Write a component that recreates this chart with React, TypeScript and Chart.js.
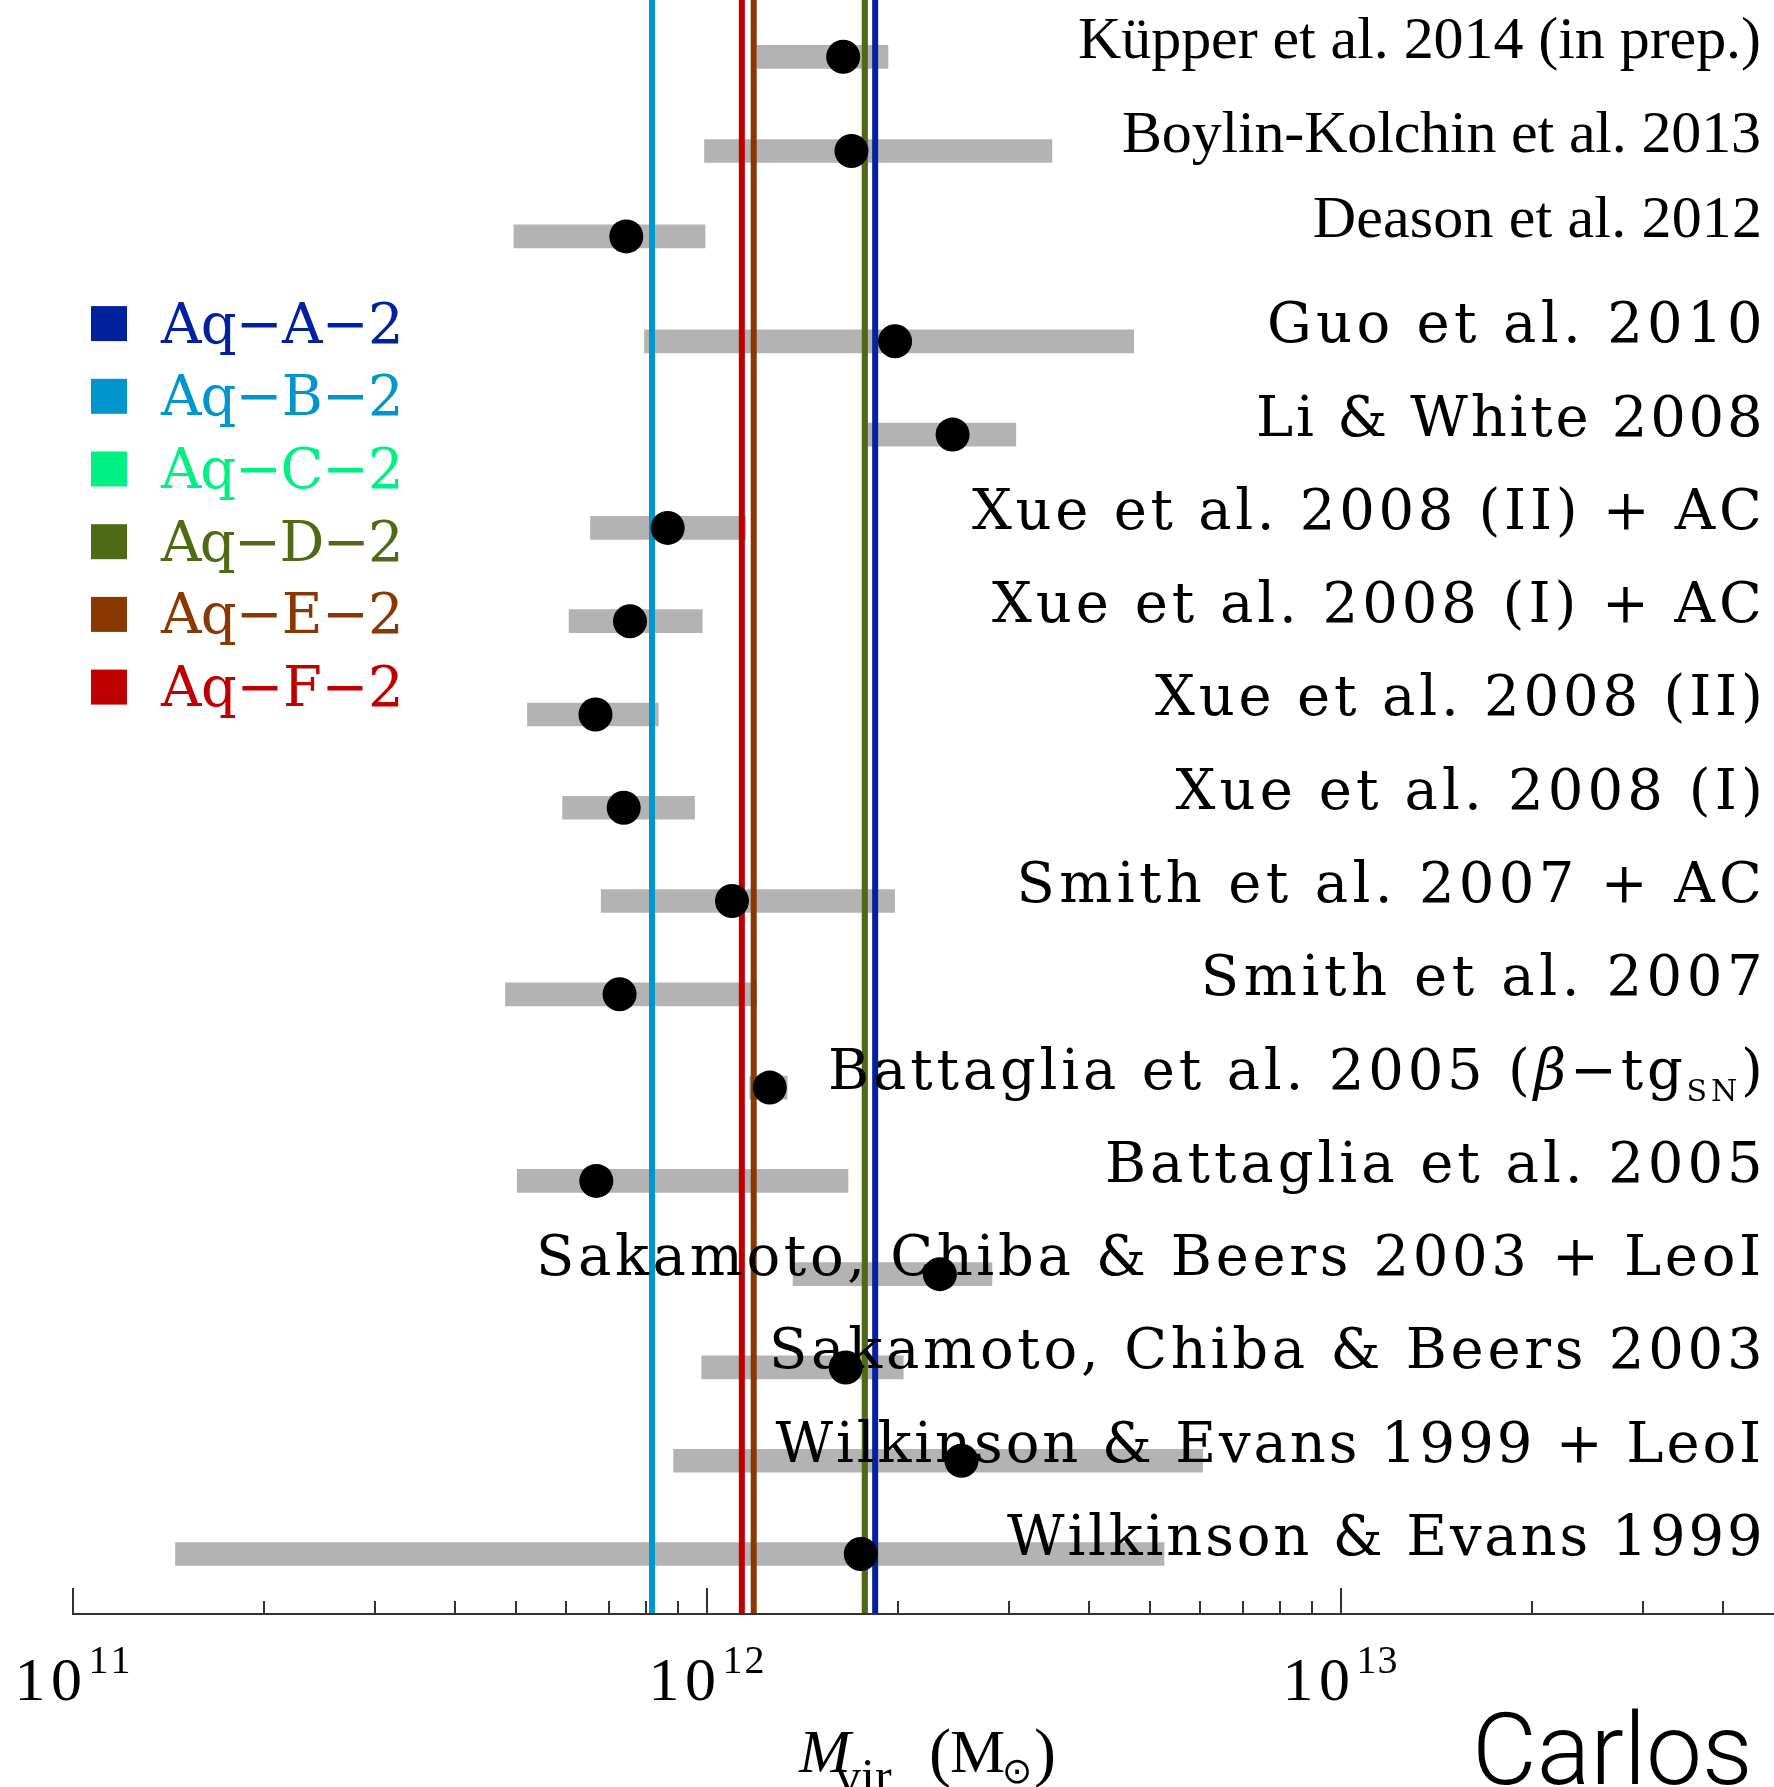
import React, { useEffect, useRef } from "react";
import { Chart, registerables } from "chart.js";

Chart.register(...registerables);

// ---------------- data ----------------
const studyLabels = [
  "Küpper et al. 2014 (in prep.)",
  "Boylin-Kolchin et al. 2013",
  "Deason et al. 2012",
  "Guo et al. 2010",
  "Li & White 2008",
  "Xue et al. 2008 (II) + AC",
  "Xue et al. 2008 (I) + AC",
  "Xue et al. 2008 (II)",
  "Xue et al. 2008 (I)",
  "Smith et al. 2007 + AC",
  "Smith et al. 2007",
  "Battaglia et al. 2005 (β−tg_{SN})",
  "Battaglia et al. 2005",
  "Sakamoto, Chiba & Beers 2003 + LeoI",
  "Sakamoto, Chiba & Beers 2003",
  "Wilkinson & Evans 1999 + LeoI",
  "Wilkinson & Evans 1999",
];

// row position (0 = bottom row)
const rowPos = [16.05, 15.04, 14.125, 13, 12, 11, 10, 9, 8, 7, 6, 5, 4, 3, 2, 1, 0];

const massBest = [
  1.64e12, 1.69e12, 7.46e11, 1.98e12, 2.44e12, 8.67e11, 7.56e11, 6.67e11, 7.39e11,
  1.095e12, 7.28e11, 1.256e12, 6.69e11, 2.33e12, 1.655e12, 2.52e12, 1.748e12,
];
const massLow = [
  1.2e12, 9.91e11, 4.96e11, 7.97e11, 1.773e12, 6.55e11, 6.06e11, 5.21e11, 5.92e11,
  6.81e11, 4.81e11, 1.168e12, 5.02e11, 1.367e12, 9.81e11, 8.86e11, 1.451e11,
];
const massHigh = [
  1.93e12, 3.5e12, 9.93e11, 4.71e12, 3.07e12, 1.151e12, 9.83e11, 8.38e11, 9.56e11,
  1.977e12, 1.198e12, 1.338e12, 1.669e12, 2.815e12, 2.04e12, 6.05e12, 5.26e12,
];

const haloNames = ["Aq−A−2", "Aq−B−2", "Aq−C−2", "Aq−D−2", "Aq−E−2", "Aq−F−2"];
const haloMass = [1.842e12, 8.19e11, 1.774e12, 1.774e12, 1.185e12, 1.135e12];
const haloColors = ["#00229f", "#0096cc", "#00f084", "#4f6a14", "#883800", "#c00000"];

const xTickExponents = [11, 12, 13];
const xMin = 1e11;
const xMax = 4.82e13;
const yMin = -0.643;
const yMax = 16.659;

// ---------------- layout / style ----------------
const W = 1774;
const H = 1787;
const labelKind = studyLabels.map((_, i) => (i < 3 ? "times" : "typewriter"));
const labelInkLeft = [
  1079, 1123, 1313.7, 1270, 1259, 972, 992, 1155, 1175.5, 1020.6, 1204.8, 831, 1108,
  540, 773, 775.5, 1007,
];
const labelInkRight = 1759;

type Ch = { text: string; font: string; dy: number };

function charsOf(text: string, font: string): Ch[] {
  return Array.from(text).map((c) => ({ text: c, font, dy: 0 }));
}

function buildLabel(label: string, kind: string): Ch[] {
  const base = kind === "times" ? '60px "Liberation Serif"' : '56px "DejaVu Serif"';
  const italic = kind === "times" ? 'italic 60px "Liberation Serif"' : 'italic 56px "DejaVu Serif"';
  const sub = '30px "DejaVu Serif"';
  const out: Ch[] = [];
  const pushText = (t: string) => {
    for (const c of Array.from(t)) {
      out.push({ text: c, font: /[α-ω]/.test(c) ? italic : base, dy: 0 });
    }
  };
  const re = /_\{([^}]*)\}/g;
  let last = 0;
  let m: RegExpExecArray | null;
  while ((m = re.exec(label))) {
    pushText(label.slice(last, m.index));
    for (const c of Array.from(m[1])) out.push({ text: c, font: sub, dy: 12 });
    last = re.lastIndex;
  }
  pushText(label.slice(last));
  return out;
}

function drawSpaced(
  ctx: CanvasRenderingContext2D,
  chars: Ch[],
  left: number,
  right: number,
  baseline: number,
  color: string
) {
  const n = chars.length;
  const widths = chars.map((c) => {
    ctx.font = c.font;
    return ctx.measureText(c.text).width;
  });
  ctx.font = chars[0].font;
  const abl = ctx.measureText(chars[0].text).actualBoundingBoxLeft;
  ctx.font = chars[n - 1].font;
  const abr = ctx.measureText(chars[n - 1].text).actualBoundingBoxRight;
  let inner = 0;
  for (let i = 0; i < n - 1; i++) inner += widths[i];
  const s = n > 1 ? (right - left - (abl + inner + abr)) / (n - 1) : 0;
  let x = left + abl;
  ctx.fillStyle = color;
  ctx.textAlign = "left";
  ctx.textBaseline = "alphabetic";
  for (let i = 0; i < n; i++) {
    ctx.font = chars[i].font;
    ctx.fillText(chars[i].text, x, baseline + chars[i].dy);
    x += widths[i] + s;
  }
}

function drawInk(ctx: CanvasRenderingContext2D, text: string, font: string, inkLeft: number, baseline: number) {
  ctx.font = font;
  const m = ctx.measureText(text);
  ctx.textAlign = "left";
  ctx.textBaseline = "alphabetic";
  ctx.fillText(text, inkLeft + m.actualBoundingBoxLeft, baseline);
}

const decor = {
  id: "decor",
  afterDraw(chart: any) {
    const ctx: CanvasRenderingContext2D = chart.ctx;
    const xs = chart.scales.x;
    const ys = chart.scales.y;
    const area = chart.chartArea;
    ctx.save();

    // x axis line + inward ticks
    const axisY = area.bottom;
    ctx.strokeStyle = "#333333";
    ctx.lineWidth = 2;
    ctx.beginPath();
    ctx.moveTo(area.left, axisY);
    ctx.lineTo(area.right, axisY);
    ctx.stroke();
    for (const e of xTickExponents) {
      for (let m = 1; m <= 9; m++) {
        const v = m * Math.pow(10, e);
        if (v > xMax) break;
        const px = Math.round(xs.getPixelForValue(v));
        const len = m === 1 ? 26 : 13;
        ctx.beginPath();
        ctx.moveTo(px, axisY + 1);
        ctx.lineTo(px, axisY - len);
        ctx.stroke();
      }
    }

    // tick labels 10^n
    for (const e of xTickExponents) {
      const px = xs.getPixelForValue(Math.pow(10, e));
      drawSpaced(ctx, charsOf("10", '62px "Liberation Serif"'), px - 53.5, px + 7, 1700, "#000");
      drawSpaced(ctx, charsOf(String(e), '40px "Liberation Serif"'), px + 18.5, px + 55.5, 1673, "#000");
    }

    // axis title  M_vir (M_sun)
    ctx.fillStyle = "#000";
    drawInk(ctx, "M", 'italic 62px "Liberation Serif"', 798, 1772);
    drawInk(ctx, "vir", '50px "Liberation Serif"', 836, 1793);
    drawInk(ctx, "(", '66px "Liberation Serif"', 931, 1774);
    drawInk(ctx, "M", '62px "Liberation Serif"', 951, 1772);
    {
      ctx.font = '36px "DejaVu Sans"';
      const m = ctx.measureText("⊙");
      const cx = 1017;
      const cy = 1771;
      const w = m.actualBoundingBoxLeft + m.actualBoundingBoxRight;
      const x = cx - w / 2 + m.actualBoundingBoxLeft;
      const y = cy + (m.actualBoundingBoxAscent - m.actualBoundingBoxDescent) / 2;
      ctx.textAlign = "left";
      ctx.textBaseline = "alphabetic";
      ctx.fillText("⊙", x, y);
    }
    drawInk(ctx, ")", '66px "Liberation Serif"', 1036, 1774);

    // study labels
    studyLabels.forEach((label, i) => {
      const baseline = ys.getPixelForValue(rowPos[i]) + 1;
      drawSpaced(ctx, buildLabel(label, labelKind[i]), labelInkLeft[i], labelInkRight, baseline, "#000");
    });

    // legend
    haloNames.forEach((name, i) => {
      const baseline = 342.6 + i * 72.7;
      ctx.fillStyle = haloColors[i];
      ctx.fillRect(91, baseline - 36.5, 36, 35);
      drawSpaced(ctx, charsOf(name, '56px "DejaVu Serif"'), 160, 399, baseline, haloColors[i]);
    });

    // signature
    drawSpaced(ctx, charsOf("Carlos", '300 100px Roboto'), 1478, 1748, 1784, "#000");

    ctx.restore();
  },
};

export default function App() {
  const ref = useRef<HTMLCanvasElement | null>(null);

  useEffect(() => {
    const canvas = ref.current;
    if (!canvas) return;

    const rows = studyLabels.map((_, i) => i);

    const haloDatasets = haloNames.map((name, i) => ({
      type: "line" as const,
      label: name,
      data: [
        { x: haloMass[i], y: yMin },
        { x: haloMass[i], y: yMax },
      ],
      borderColor: haloColors[i],
      backgroundColor: haloColors[i],
      borderWidth: 6,
      borderCapStyle: "butt" as const,
      pointRadius: 0,
      fill: false,
      tension: 0,
      clip: 0,
      order: name === "Aq−C−2" ? 2.5 : 2,
    }));

    const chart = new Chart(canvas, {
      type: "scatter",
      data: {
        datasets: [
          ...haloDatasets,
          {
            type: "bar",
            label: "range",
            indexAxis: "y",
            data: rows.map((i) => ({ y: rowPos[i], x: [massLow[i], massHigh[i]] })),
            backgroundColor: "#b3b3b3",
            borderWidth: 0,
            barThickness: 23,
            order: 3,
          } as any,
          {
            type: "scatter",
            label: "estimate",
            data: rows.map((i) => ({ x: massBest[i], y: rowPos[i] })),
            pointRadius: 17,
            pointBackgroundColor: "#000",
            pointBorderWidth: 0,
            order: 0,
          },
        ],
      },
      options: {
        responsive: false,
        animation: false,
        devicePixelRatio: 1,
        events: [],
        layout: { autoPadding: false, padding: { left: 73, right: 0, top: 0, bottom: H - 1614 } },
        scales: {
          x: { type: "logarithmic", min: xMin, max: xMax, display: false, offset: false },
          y: { type: "linear", min: yMin, max: yMax, display: false, offset: false },
        },
        plugins: { legend: { display: false }, tooltip: { enabled: false } },
      },
      plugins: [decor],
    } as any);

    return () => chart.destroy();
  }, []);

  return (
    <div style={{ position: "absolute", left: 0, top: 0, width: W, height: H, background: "#fff" }}>
      <canvas ref={ref} width={W} height={H} style={{ display: "block", width: W, height: H }} />
    </div>
  );
}
